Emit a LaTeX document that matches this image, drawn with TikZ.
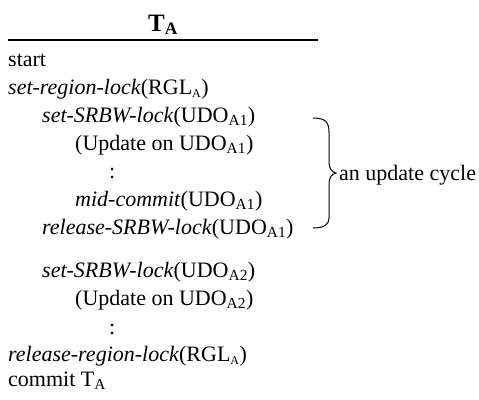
\documentclass[tikz,border=0pt]{standalone}
\usepackage{fontspec}
\setmainfont{Liberation Serif}

\tikzstyle{txt} = [anchor=base west,inner sep=0pt,font=\fontsize{22}{26}\selectfont]
\tikzstyle{head} = [anchor=base,inner sep=0pt,font=\fontsize{25}{30}\selectfont\bfseries]
\newcommand{\rglsub}{\textsubscript{\fontsize{12}{12}\selectfont A}}

\begin{document}
\begin{tikzpicture}[x=1pt,y=-1pt]
	\useasboundingbox (0,0) rectangle (479,399);
	% header
	\node (title) [head] at (163,31) {T\textsubscript{A}};
	\coordinate (ruleL) at (8,40);
	\coordinate (ruleR) at (318,40);
	\draw [line width=1.2pt] (ruleL) -- (ruleR);
	% transaction steps
	\node (start) [txt] at (8,66) {start};
	\node (setrgl) [txt] at (8,94) {\textit{set-region-lock}(RGL\rglsub)};
	\node (setudo1) [txt] at (42,122) {\textit{set-SRBW-lock}(UDO\textsubscript{A1})};
	\node (upd1) [txt] at (75,150) {(Update on UDO\textsubscript{A1})};
	\node (dots1) [txt] at (109,178) {:};
	\node (mid1) [txt] at (75,206) {\textit{mid-commit}(UDO\textsubscript{A1})};
	\node (reludo1) [txt] at (42,234) {\textit{release-SRBW-lock}(UDO\textsubscript{A1})};
	\node (setudo2) [txt] at (42,277) {\textit{set-SRBW-lock}(UDO\textsubscript{A2})};
	\node (upd2) [txt] at (75,305) {(Update on UDO\textsubscript{A2})};
	\node (dots2) [txt] at (109,334) {:};
	\node (relrgl) [txt] at (8,361) {\textit{release-region-lock}(RGL\rglsub)};
	\node (commit) [txt] at (8,386) {commit T\textsubscript{A}};
	% update cycle brace
	\coordinate (btop) at (313,118);
	\coordinate (btip) at (336,173);
	\coordinate (bbot) at (313,228);
	\draw [line width=1pt] (btop) .. controls (325,118) and (329,122) .. (329,132) -- (329,162)
		.. controls (329,169) and (332,172) .. (btip)
		.. controls (332,174) and (329,177) .. (329,184) -- (329,218)
		.. controls (329,224) and (325,228) .. (bbot);
	\node (cycle) [txt] at (339,180) {an update cycle};
\end{tikzpicture}
\end{document}
